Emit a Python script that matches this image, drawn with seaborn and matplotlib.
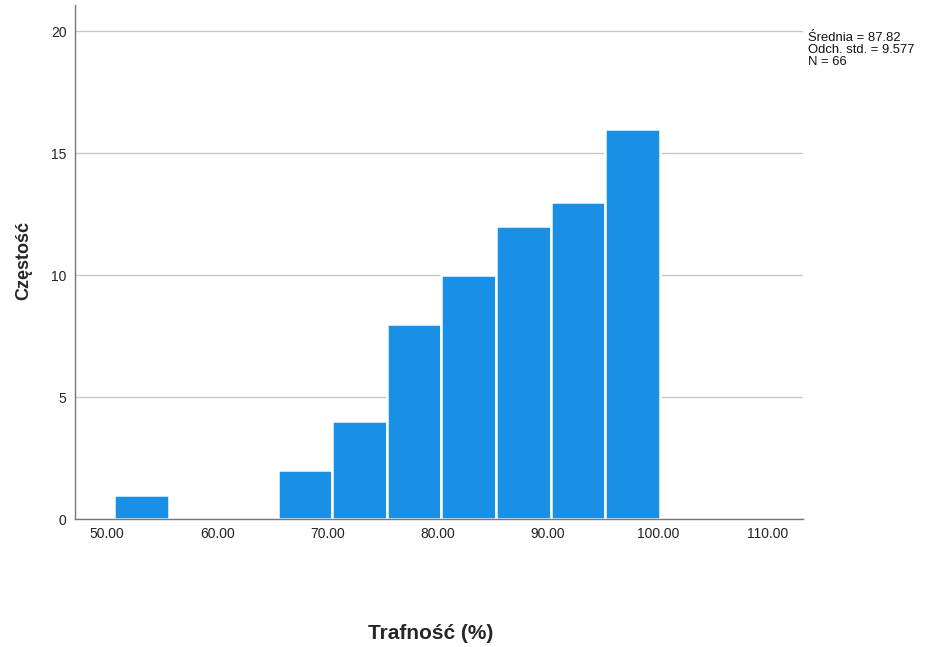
import numpy as np
import pandas as pd
import matplotlib
matplotlib.use("Agg")
import matplotlib.pyplot as plt
import seaborn as sns

# Data
bin_edges = [50.65, 55.6, 60.55, 65.5, 70.45, 75.4, 80.35, 85.3, 90.25, 95.2, 100.15]
bin_centers = [53, 58, 63, 68, 73, 78, 83, 88, 93, 98]
counts = [1, 0, 0, 2, 4, 8, 10, 12, 13, 16]
x_ticks = [50, 60, 70, 80, 90, 100, 110]
x_tick_labels = ["50.00", "60.00", "70.00", "80.00", "90.00", "100.00", "110.00"]
y_ticks = [0, 5, 10, 15, 20]
stats_text = "Średnia = 87.82\nOdch. std. = 9.577\nN = 66"

sns.set_style("white")
plt.rcParams['font.family'] = ['Liberation Sans', 'DejaVu Sans']

df = pd.DataFrame({"val": bin_centers, "cnt": counts})

fig = plt.figure(figsize=(9.29, 6.47), dpi=100)
ax = fig.add_axes([0.0807, 0.1978, 0.7836, 0.7944])

ax.set_axisbelow(True)
ax.yaxis.grid(True, color="#c8c8c8", linewidth=1.0)
ax.xaxis.grid(False)

sns.histplot(data=df, x="val", weights="cnt", bins=bin_edges, ax=ax,
             color="#1a8fe6", alpha=1.0, edgecolor="white", linewidth=1.8)

ax.set_xlim(47.08, 113.16)
ax.set_ylim(0, 21.07)
ax.set_xticks(x_ticks)
ax.set_xticklabels(x_tick_labels)
ax.set_yticks(y_ticks)
ax.tick_params(axis="both", length=0, labelsize=10, colors="#222222", pad=6)

for s in ["top", "right"]:
    ax.spines[s].set_visible(False)
for s in ["left", "bottom"]:
    ax.spines[s].set_color("#777777")
    ax.spines[s].set_linewidth(1.0)

ax.set_ylabel("")
ax.set_xlabel("")
fig.text(0.0258, 0.5966, "Częstość", ha="center", va="center", rotation=90,
         fontsize=13, fontweight="bold")
fig.text(0.4634, 0.0216, "Trafność (%)", ha="center", va="center",
         fontsize=15, fontweight="bold")

fig.text(0.870, 0.950, stats_text, ha="left", va="top", fontsize=9.4,
         linespacing=0.98, color="#111111")

fig.savefig("out.png", dpi=100)
